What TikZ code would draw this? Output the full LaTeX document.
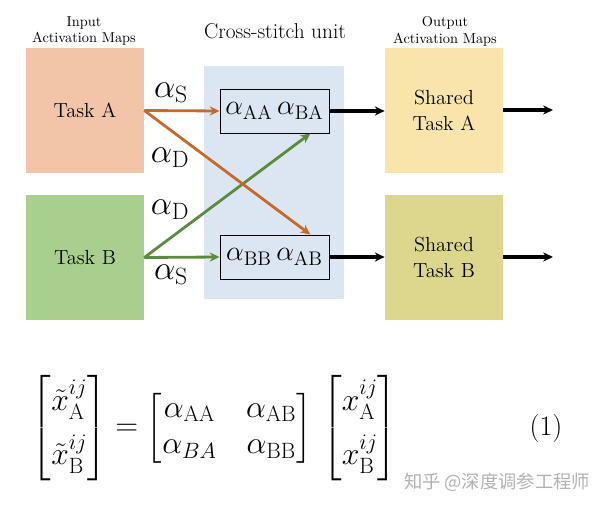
\RequirePackage{fix-cm}
\documentclass[tikz,border=0pt]{standalone}
\usepackage{amsmath}
\usepackage{fontspec}
\newfontfamily\cjkfont{Noto Sans CJK SC}
\usepackage{tikz}
\usepackage{xcolor}
\usetikzlibrary{arrows.meta}

\definecolor{taskApeach}{RGB}{243,197,168}
\definecolor{taskBgreen}{RGB}{169,207,142}
\definecolor{sharedAyellow}{RGB}{249,229,171}
\definecolor{sharedBolive}{RGB}{220,215,141}
\definecolor{unitblue}{RGB}{220,230,242}
\definecolor{arrorange}{RGB}{196,106,44}
\definecolor{arrgreen}{RGB}{91,140,61}

\begin{document}
\begin{tikzpicture}[x=0.025cm, y=-0.025cm, >={Stealth[length=7pt, width=6.5pt]},
    map/.style={minimum width=2.95cm, minimum height=3.125cm, inner sep=0pt, align=center, font=\fontsize{14.5}{18}\selectfont},
    stitch/.style={draw, line width=0.6pt, minimum width=2.725cm, minimum height=1.1cm, inner sep=0pt, font=\fontsize{20}{24}\selectfont},
    head/.style={align=center, font=\fontsize{10.2}{12}\selectfont},
    coef/.style={font=\fontsize{24}{28}\selectfont}]
    \useasboundingbox (0,0) rectangle (600,506);

    % Background of the unit
    \fill[unitblue] (204,66) rectangle (344,299);

    % Headings
    \node[head] (inhead) at (84,31) {Input\\Activation Maps};
    \node[font=\fontsize{15.2}{18}\selectfont] (unithead) at (275,31) {Cross-stitch unit};
    \node[head] (outhead) at (445,31) {Output\\Activation Maps};

    % Activation maps
    \node[map, fill=taskApeach] (taskA) at (85,110.5) {Task A};
    \node[map, fill=taskBgreen] (taskB) at (85,257.5) {Task B};
    \node[map, fill=sharedAyellow] (sharedA) at (444,110.5) {Shared\\Task A};
    \node[map, fill=sharedBolive] (sharedB) at (444,257.5) {Shared\\Task B};

    % Cross-stitch boxes
    \node[stitch] (unitA) at (274.5,111) {$\alpha_{\mathrm{AA}}\,\alpha_{\mathrm{BA}}$};
    \node[stitch] (unitB) at (274.5,257) {$\alpha_{\mathrm{BB}}\,\alpha_{\mathrm{AB}}$};

    % Coloured arrows
    \draw[->, line width=2pt, arrgreen] (taskB.east) -- (unitB.west);
    \draw[->, line width=2pt, arrgreen] (taskB.east) -- (unitA.-32);
    \draw[->, line width=2pt, arrorange] (taskA.east) -- (unitA.west);
    \draw[->, line width=2pt, arrorange] (taskA.east) -- (unitB.32);

    % Labels
    \node[coef] (sA) at (171,93) {$\alpha_{\mathrm{S}}$};
    \node[coef] (dA) at (170,158) {$\alpha_{\mathrm{D}}$};
    \node[coef] (dB) at (170,210) {$\alpha_{\mathrm{D}}$};
    \node[coef] (sB) at (171,275) {$\alpha_{\mathrm{S}}$};

    % Black arrows
    \coordinate (outA) at (553,110);
    \coordinate (outB) at (553,257);
    \draw[->, line width=2.4pt] (unitA.east) -- (sharedA.west |- unitA.east);
    \draw[->, line width=2.4pt] (unitB.east) -- (sharedB.west |- unitB.east);
    \draw[->, line width=2.4pt] (sharedA.east |- outA) -- (outA);
    \draw[->, line width=2.4pt] (sharedB.east |- outB) -- (outB);

    % Equation
    \node[font=\fontsize{22.5}{26}\selectfont] (eq) at (214.5,428) {\setlength{\arraycolsep}{10.5pt}$\begin{bmatrix}\tilde{x}^{ij}_{\mathrm{A}}\\[10pt] \tilde{x}^{ij}_{\mathrm{B}}\end{bmatrix} = \begin{bmatrix}\alpha_{\mathrm{AA}} & \alpha_{\mathrm{AB}}\\ \alpha_{BA} & \alpha_{\mathrm{BB}}\end{bmatrix}\, \begin{bmatrix}x^{ij}_{\mathrm{A}}\\[10pt] x^{ij}_{\mathrm{B}}\end{bmatrix}$};
    \node[font=\fontsize{20}{24}\selectfont] (eqno) at (546,428) {(1)};
    \node[font=\cjkfont\fontsize{13}{15}\selectfont, text=black!30] (mark) at (497,482) {知乎 @深度调参工程师};
\end{tikzpicture}
\end{document}
